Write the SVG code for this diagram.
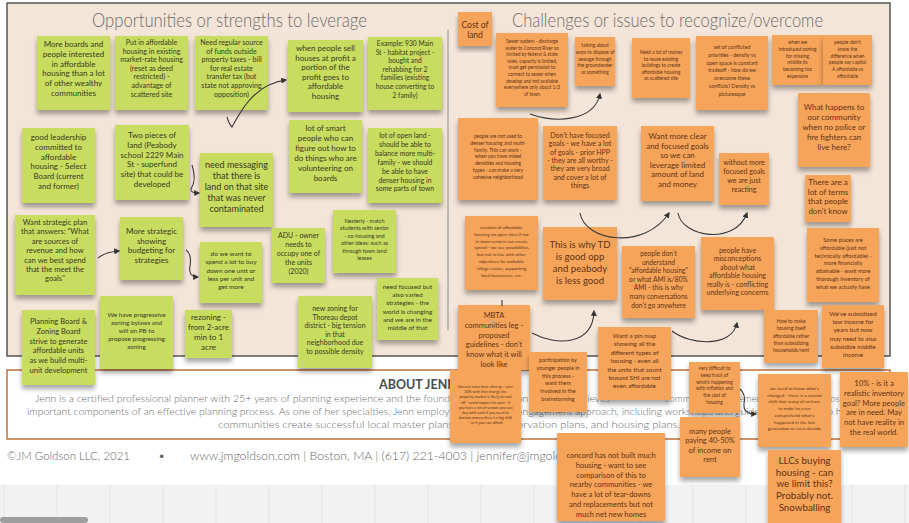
<svg xmlns="http://www.w3.org/2000/svg" width="909" height="523" viewBox="0 0 909 523">
<defs>
<filter id="sh" x="-10%" y="-10%" width="120%" height="130%">
<feDropShadow dx="0" dy="4" stdDeviation="2.5" flood-color="#000" flood-opacity="0.35"/>
</filter>
<marker id="ah" viewBox="0 0 10 10" refX="8" refY="5" markerWidth="6" markerHeight="6" markerUnits="userSpaceOnUse" orient="auto">
<path d="M0,0 L10,5 L0,10 z" fill="#333"/>
</marker>
<style>
.g{fill:#c8dc5e;filter:url(#sh)}
.o{fill:#f6a45a;filter:url(#sh)}
.tg{font-family:Lato,"Open Sans",sans-serif;fill:#3a3a24;text-anchor:middle}
.to{font-family:Lato,"Open Sans",sans-serif;fill:#5e3314;text-anchor:middle}
.title{font-family:Lato,"Open Sans",sans-serif;font-weight:300;fill:#6b6b6b;font-size:19px}
.about{font-family:Lato,"Open Sans",sans-serif;font-weight:300;fill:#6a6a6a;font-size:9.8px}
.foot{font-family:Lato,"Open Sans",sans-serif;font-weight:300;fill:#666;font-size:12.5px}
.conn{fill:none;stroke:#3a3a3a;stroke-width:1.1}
</style>
</defs>
<rect x="0" y="0" width="909" height="523" fill="#ffffff"/>
<g id="board">
<rect x="7" y="3" width="883" height="353" fill="#f3e5d8" stroke="#555" stroke-width="1.5"/>
<line x1="448" y1="30" x2="448" y2="330" stroke="#aaa" stroke-width="1.5"/>
<text class="title" x="92" y="27" textLength="275" lengthAdjust="spacingAndGlyphs">Opportunities or strengths to leverage</text>
<text class="title" x="512" y="27" textLength="311" lengthAdjust="spacingAndGlyphs">Challenges or issues to recognize/overcome</text>
</g>
<g id="about">
<rect x="7" y="370" width="883" height="69" fill="#fff" stroke="#c0703a" stroke-width="1.5"/>
<text x="379" y="389" font-family="Lato, 'Open Sans', sans-serif" font-weight="700" font-size="12.5" fill="#4a4a4a">ABOUT JENN</text>
<text class="about" x="35" y="402" textLength="575" lengthAdjust="spacingAndGlyphs">Jenn is a certified professional planner with 25+ years of planning experience and the founder of JM Goldson LLC. She believes</text>
<text class="about" x="665" y="402" textLength="178" lengthAdjust="spacingAndGlyphs">community engagement is one of the most</text>
<text class="about" x="27" y="415" textLength="828" lengthAdjust="spacingAndGlyphs">important components of an effective planning process. As one of her specialties, Jenn employs a community engagement approach, including workshops and guided discussions, to help</text>
<text class="about" x="218" y="428" textLength="462" lengthAdjust="spacingAndGlyphs">communities create successful local master plans, historic preservation plans, and housing plans.</text>
</g>
<g id="footer">
<text class="foot" x="7" y="460" textLength="123" lengthAdjust="spacingAndGlyphs">©JM Goldson LLC, 2021</text>
<text class="foot" x="158" y="460">•</text>
<text class="foot" x="190" y="460" textLength="416" lengthAdjust="spacingAndGlyphs">www.jmgoldson.com | Boston, MA | (617) 221-4003 | jennifer@jmgoldson.com</text>
</g>
<g id="canvas">
<rect x="0" y="485" width="909" height="38" fill="#f2f2f2"/>
<path d="M4,485V523M57,485V523M110,485V523M163,485V523M216,485V523M269,485V523M322,485V523M375,485V523M428,485V523M481,485V523M534,485V523M587,485V523M640,485V523M693,485V523M746,485V523M799,485V523M852,485V523M905,485V523" stroke="#e3e3e3" stroke-width="1"/>
<rect x="0" y="517" width="88" height="6" rx="3" fill="#9e9e9e"/>
</g>

<g id="g1"><rect class="g" x="37" y="36" width="73" height="74"/><text class="tg" x="73.5" y="47" font-size="8"><tspan x="73.5">More boards and</tspan><tspan x="73.5" dy="9.8">people interested</tspan><tspan x="73.5" dy="9.8">in affordable</tspan><tspan x="73.5" dy="9.8">housing than a lot</tspan><tspan x="73.5" dy="9.8">of other wealthy</tspan><tspan x="73.5" dy="9.8">communities</tspan></text></g>
<g id="g2"><rect class="g" x="115" y="36" width="73" height="74"/><text class="tg" x="151.5" y="45" font-size="7.1"><tspan x="151.5">Put in affordable</tspan><tspan x="151.5" dy="8.6">housing in existing</tspan><tspan x="151.5" dy="8.6">market-rate housing</tspan><tspan x="151.5" dy="8.6">(reset as deed</tspan><tspan x="151.5" dy="8.6">restricted) -</tspan><tspan x="151.5" dy="8.6">advantage of</tspan><tspan x="151.5" dy="8.6">scattered site</tspan></text></g>
<g id="g3"><rect class="g" x="195" y="36" width="73" height="74"/><text class="tg" x="231.5" y="45" font-size="7.1"><tspan x="231.5">Need regular source</tspan><tspan x="231.5" dy="8.6">of funds outside</tspan><tspan x="231.5" dy="8.6">property taxes - bill</tspan><tspan x="231.5" dy="8.6">for real estate</tspan><tspan x="231.5" dy="8.6">transfer tax (but</tspan><tspan x="231.5" dy="8.6">state not approving</tspan><tspan x="231.5" dy="8.6">opposition)</tspan></text></g>
<g id="g4"><rect class="g" x="288" y="40" width="75" height="72"/><text class="tg" x="325.5" y="51" font-size="8"><tspan x="325.5">when people sell</tspan><tspan x="325.5" dy="9.5">houses at profit a</tspan><tspan x="325.5" dy="9.5">portion of the</tspan><tspan x="325.5" dy="9.5">profit goes to</tspan><tspan x="325.5" dy="9.5">affordable</tspan><tspan x="325.5" dy="9.5">housing</tspan></text></g>
<g id="g5"><rect class="g" x="368" y="37" width="74" height="73"/><text class="tg" x="405" y="46" font-size="6.7"><tspan x="405">Example: 930 Main</tspan><tspan x="405" dy="8.6">St - habitat project -</tspan><tspan x="405" dy="8.6">bought and</tspan><tspan x="405" dy="8.6">rehabbing for 2</tspan><tspan x="405" dy="8.6">families (existing</tspan><tspan x="405" dy="8.6">house converting to</tspan><tspan x="405" dy="8.6">2 family)</tspan></text></g>
<g id="g6"><rect class="g" x="22" y="128" width="73" height="75"/><text class="tg" x="58.5" y="140" font-size="8"><tspan x="58.5">good leadership</tspan><tspan x="58.5" dy="9.8">committed to</tspan><tspan x="58.5" dy="9.8">affordable</tspan><tspan x="58.5" dy="9.8">housing - Select</tspan><tspan x="58.5" dy="9.8">Board (current</tspan><tspan x="58.5" dy="9.8">and former)</tspan></text></g>
<g id="g7"><rect class="g" x="115" y="125" width="74" height="75"/><text class="tg" x="152" y="138" font-size="8"><tspan x="152">Two pieces of</tspan><tspan x="152" dy="9.8">land (Peabody</tspan><tspan x="152" dy="9.8">school 2229 Main</tspan><tspan x="152" dy="9.8">St - superfund</tspan><tspan x="152" dy="9.8">site) that could be</tspan><tspan x="152" dy="9.8">developed</tspan></text></g>
<g id="g8"><rect class="g" x="200" y="153" width="73" height="74"/><text class="tg" x="236.5" y="168" font-size="9"><tspan x="236.5">need messaging</tspan><tspan x="236.5" dy="11">that there is</tspan><tspan x="236.5" dy="11">land on that site</tspan><tspan x="236.5" dy="11">that was never</tspan><tspan x="236.5" dy="11">contaminated</tspan></text></g>
<g id="g9"><rect class="g" x="289" y="120" width="73" height="73"/><text class="tg" x="325.5" y="131" font-size="8"><tspan x="325.5">lot of smart</tspan><tspan x="325.5" dy="10">people who can</tspan><tspan x="325.5" dy="10">figure out how to</tspan><tspan x="325.5" dy="10">do things who are</tspan><tspan x="325.5" dy="10">volunteering on</tspan><tspan x="325.5" dy="10">boards</tspan></text></g>
<g id="g10"><rect class="g" x="368" y="128" width="74" height="75"/><text class="tg" x="405" y="138" font-size="6.9"><tspan x="405">lot of open land -</tspan><tspan x="405" dy="8.9">should be able to</tspan><tspan x="405" dy="8.9">balance more multi-</tspan><tspan x="405" dy="8.9">family - we should</tspan><tspan x="405" dy="8.9">be able to have</tspan><tspan x="405" dy="8.9">denser housing in</tspan><tspan x="405" dy="8.9">some parts of town</tspan></text></g>
<g id="g11"><rect class="g" x="15" y="215" width="80" height="80"/><text class="tg" x="55" y="225" font-size="7.6"><tspan x="55">Want strategic plan</tspan><tspan x="55" dy="9.4">that answers: "What</tspan><tspan x="55" dy="9.4">are sources of</tspan><tspan x="55" dy="9.4">revenue and how</tspan><tspan x="55" dy="9.4">can we best spend</tspan><tspan x="55" dy="9.4">that the meet the</tspan><tspan x="55" dy="9.4">goals"</tspan></text></g>
<g id="g12"><rect class="g" x="120" y="217" width="63" height="63"/><text class="tg" x="151.5" y="234" font-size="8"><tspan x="151.5">More strategic</tspan><tspan x="151.5" dy="9.6">showing</tspan><tspan x="151.5" dy="9.6">budgeting for</tspan><tspan x="151.5" dy="9.6">strategies</tspan></text></g>
<g id="g13"><rect class="g" x="200" y="242" width="62" height="61"/><text class="tg" x="231" y="256" font-size="6.5"><tspan x="231">do we want to</tspan><tspan x="231" dy="8.3">spend a lot to buy</tspan><tspan x="231" dy="8.3">down one unit or</tspan><tspan x="231" dy="8.3">less per unit and</tspan><tspan x="231" dy="8.3">get more</tspan></text></g>
<g id="g14"><rect class="g" x="272" y="228" width="53" height="55"/><text class="tg" x="298.5" y="238" font-size="7"><tspan x="298.5">ADU - owner</tspan><tspan x="298.5" dy="8.9">needs to</tspan><tspan x="298.5" dy="8.9">occupy one of</tspan><tspan x="298.5" dy="8.9">the units</tspan><tspan x="298.5" dy="8.9">(2020)</tspan></text></g>
<g id="g15"><rect class="g" x="333" y="210" width="63" height="63"/><text class="tg" x="364.5" y="223" font-size="5.5"><tspan x="364.5">Nesterly - match</tspan><tspan x="364.5" dy="7.4">students with senior</tspan><tspan x="364.5" dy="7.4">- co-housing and</tspan><tspan x="364.5" dy="7.4">other ideas: such as</tspan><tspan x="364.5" dy="7.4">through town land</tspan><tspan x="364.5" dy="7.4">leases</tspan></text></g>
<g id="g16"><rect class="g" x="377" y="278" width="61" height="62"/><text class="tg" x="407.5" y="289" font-size="6.5"><tspan x="407.5">need focused but</tspan><tspan x="407.5" dy="8.2">also varied</tspan><tspan x="407.5" dy="8.2">strategies - the</tspan><tspan x="407.5" dy="8.2">world is changing</tspan><tspan x="407.5" dy="8.2">and we are in the</tspan><tspan x="407.5" dy="8.2">middle of that</tspan></text></g>
<g id="g17"><rect class="g" x="298" y="296" width="74" height="72"/><text class="tg" x="335" y="311" font-size="7"><tspan x="335">new zoning for</tspan><tspan x="335" dy="8.6">Thoreau depot</tspan><tspan x="335" dy="8.6">district - big tension</tspan><tspan x="335" dy="8.6">in that</tspan><tspan x="335" dy="8.6">neighborhood due</tspan><tspan x="335" dy="8.6">to possible density</tspan></text></g>
<g id="g18"><rect class="g" x="22" y="310" width="73" height="75"/><text class="tg" x="58.5" y="324" font-size="7.5"><tspan x="58.5">Planning Board &amp;</tspan><tspan x="58.5" dy="9.8">Zoning Board</tspan><tspan x="58.5" dy="9.8">strive to generate</tspan><tspan x="58.5" dy="9.8">affordable units</tspan><tspan x="58.5" dy="9.8">as we build multi-</tspan><tspan x="58.5" dy="9.8">unit development</tspan></text></g>
<g id="g19"><rect class="g" x="100" y="296" width="73" height="73"/><text class="tg" x="136.5" y="317" font-size="6.4"><tspan x="136.5">We have progressive</tspan><tspan x="136.5" dy="8.1">zoning bylaws and</tspan><tspan x="136.5" dy="8.1">will on PB to</tspan><tspan x="136.5" dy="8.1">propose progressing</tspan><tspan x="136.5" dy="8.1">zoning</tspan></text></g>
<g id="g20"><rect class="g" x="185" y="310" width="47" height="48"/><text class="tg" x="208.5" y="320" font-size="8"><tspan x="208.5">rezoning -</tspan><tspan x="208.5" dy="10">from 2-acre</tspan><tspan x="208.5" dy="10">min to 1</tspan><tspan x="208.5" dy="10">acre</tspan></text></g>

<g id="o1"><rect class="o" x="458" y="12" width="34" height="34"/><text class="to" x="475" y="28" font-size="8.5"><tspan x="475">Cost of</tspan><tspan x="475" dy="10">land</tspan></text></g>
<g id="o2"><rect class="o" x="496" y="33" width="72" height="74"/><text class="to" x="532" y="43" font-size="4.7"><tspan x="532">Sewer system - discharge</tspan><tspan x="532" dy="6.6">water to Concord River so</tspan><tspan x="532" dy="6.6">limited by federal &amp; state</tspan><tspan x="532" dy="6.6">rules, capacity is limited,</tspan><tspan x="532" dy="6.6">must get permission to</tspan><tspan x="532" dy="6.6">connect to sewer when</tspan><tspan x="532" dy="6.6">develop and not available</tspan><tspan x="532" dy="6.6">everywhere only about 1/3</tspan><tspan x="532" dy="6.6">of town</tspan></text></g>
<g id="o3"><rect class="o" x="575" y="37" width="40" height="49"/><text class="to" x="595" y="47" font-size="4.8"><tspan x="595">talking about</tspan><tspan x="595" dy="6.8">ways to dispose of</tspan><tspan x="595" dy="6.8">sewage through</tspan><tspan x="595" dy="6.8">the groundwater</tspan><tspan x="595" dy="6.8">or something</tspan></text></g>
<g id="o4"><rect class="o" x="632" y="38" width="58" height="60"/><text class="to" x="661" y="54" font-size="4.8"><tspan x="661">Need a lot of money</tspan><tspan x="661" dy="6.6">to reuse existing</tspan><tspan x="661" dy="6.6">buildings to create</tspan><tspan x="661" dy="6.6">affordable housing</tspan><tspan x="661" dy="6.6">as scattered site</tspan></text></g>
<g id="o5"><rect class="o" x="696" y="36" width="72" height="74"/><text class="to" x="732" y="49" font-size="5.2"><tspan x="732">set of conflicted</tspan><tspan x="732" dy="7.8">priorities - density vs</tspan><tspan x="732" dy="7.8">open space is constant</tspan><tspan x="732" dy="7.8">tradeoff - how do we</tspan><tspan x="732" dy="7.8">overcome these</tspan><tspan x="732" dy="7.8">conflicts? Density vs</tspan><tspan x="732" dy="7.8">picturesque</tspan></text></g>
<g id="o6"><rect class="o" x="772" y="35" width="51" height="50"/><text class="to" x="797.5" y="44" font-size="4.8"><tspan x="797.5">when we</tspan><tspan x="797.5" dy="6.8">introduced zoning</tspan><tspan x="797.5" dy="6.8">for missing</tspan><tspan x="797.5" dy="6.8">middle its</tspan><tspan x="797.5" dy="6.8">becoming too</tspan><tspan x="797.5" dy="6.8">expensive</tspan></text></g>
<g id="o7"><rect class="o" x="823" y="35" width="49" height="50"/><text class="to" x="847.5" y="44" font-size="4.8"><tspan x="847.5">people don't</tspan><tspan x="847.5" dy="6.8">know the</tspan><tspan x="847.5" dy="6.8">difference when</tspan><tspan x="847.5" dy="6.8">people say capital</tspan><tspan x="847.5" dy="6.8">A affordable vs</tspan><tspan x="847.5" dy="6.8">affordable</tspan></text></g>
<g id="o8"><rect class="o" x="798" y="93" width="72" height="74"/><text class="to" x="834" y="110" font-size="8"><tspan x="834">What happens to</tspan><tspan x="834" dy="10">our community</tspan><tspan x="834" dy="10">when no police or</tspan><tspan x="834" dy="10">fire fighters can</tspan><tspan x="834" dy="10">live here?</tspan></text></g>
<g id="o9"><rect class="o" x="458" y="118" width="80" height="82"/><text class="to" x="498" y="138" font-size="4.9"><tspan x="498">people are not used to</tspan><tspan x="498" dy="6.8">denser housing and multi-</tspan><tspan x="498" dy="6.8">family. This can work -</tspan><tspan x="498" dy="6.8">when you have mixed</tspan><tspan x="498" dy="6.8">densities and housing</tspan><tspan x="498" dy="6.8">types - can make a very</tspan><tspan x="498" dy="6.8">cohesive neighborhood</tspan></text></g>
<g id="o10"><rect class="o" x="543" y="126" width="74" height="74"/><text class="to" x="580" y="138" font-size="7"><tspan x="580">Don't have focused</tspan><tspan x="580" dy="8.3">goals - we have a lot</tspan><tspan x="580" dy="8.3">of goals - prior HPP</tspan><tspan x="580" dy="8.3">- they are all worthy -</tspan><tspan x="580" dy="8.3">they are very broad</tspan><tspan x="580" dy="8.3">and cover a lot of</tspan><tspan x="580" dy="8.3">things</tspan></text></g>
<g id="o11"><rect class="o" x="641" y="126" width="73" height="75"/><text class="to" x="677.5" y="139" font-size="8"><tspan x="677.5">Want more clear</tspan><tspan x="677.5" dy="9.6">and focused goals</tspan><tspan x="677.5" dy="9.6">so we can</tspan><tspan x="677.5" dy="9.6">leverage limited</tspan><tspan x="677.5" dy="9.6">amount of land</tspan><tspan x="677.5" dy="9.6">and money</tspan></text></g>
<g id="o12"><rect class="o" x="719" y="153" width="50" height="52"/><text class="to" x="744" y="165" font-size="7"><tspan x="744">without more</tspan><tspan x="744" dy="9">focused goals</tspan><tspan x="744" dy="9">we are just</tspan><tspan x="744" dy="9">reacting</tspan></text></g>
<g id="o13"><rect class="o" x="805" y="175" width="46" height="47"/><text class="to" x="828" y="185" font-size="8"><tspan x="828">There are a</tspan><tspan x="828" dy="9.6">lot of terms</tspan><tspan x="828" dy="9.6">that people</tspan><tspan x="828" dy="9.6">don't know</tspan></text></g>
<g id="o14"><rect class="o" x="465" y="216" width="73" height="74"/><text class="to" x="501.5" y="229" font-size="4.5"><tspan x="501.5">creation of affordable</tspan><tspan x="501.5" dy="6.8">housing on open sites if not</tspan><tspan x="501.5" dy="6.8">in town centers can create</tspan><tspan x="501.5" dy="6.8">sprawl - we see possibilities</tspan><tspan x="501.5" dy="6.8">but not in line with other</tspan><tspan x="501.5" dy="6.8">objectives for walkable</tspan><tspan x="501.5" dy="6.8">village center, supporting</tspan><tspan x="501.5" dy="6.8">local businesses, etc.</tspan></text></g>
<g id="o15"><rect class="o" x="543" y="227" width="74" height="73"/><text class="to" x="580" y="248" font-size="9.6"><tspan x="580">This is why TD</tspan><tspan x="580" dy="12">is good opp</tspan><tspan x="580" dy="12">and peabody</tspan><tspan x="580" dy="12">is less good</tspan></text></g>
<g id="o16"><rect class="o" x="622" y="246" width="73" height="72"/><text class="to" x="658.5" y="256" font-size="6.7"><tspan x="658.5">people don't</tspan><tspan x="658.5" dy="8.6">understand</tspan><tspan x="658.5" dy="8.6">"affordable housing"</tspan><tspan x="658.5" dy="8.6">or what AMI is/80%</tspan><tspan x="658.5" dy="8.6">AMI - this is why</tspan><tspan x="658.5" dy="8.6">many conversations</tspan><tspan x="658.5" dy="8.6">don't go anywhere</tspan></text></g>
<g id="o17"><rect class="o" x="701" y="237" width="73" height="73"/><text class="to" x="737.5" y="253" font-size="7"><tspan x="737.5">people have</tspan><tspan x="737.5" dy="8.4">misconceptions</tspan><tspan x="737.5" dy="8.4">about what</tspan><tspan x="737.5" dy="8.4">affordable housing</tspan><tspan x="737.5" dy="8.4">really is - conflicting</tspan><tspan x="737.5" dy="8.4">underlying concerns</tspan></text></g>
<g id="o18"><rect class="o" x="807" y="228" width="72" height="74"/><text class="to" x="843" y="242" font-size="5.6"><tspan x="843">Some places are</tspan><tspan x="843" dy="7.8">affordable (just not</tspan><tspan x="843" dy="7.8">technically affordable) -</tspan><tspan x="843" dy="7.8">more financially</tspan><tspan x="843" dy="7.8">attainable - want more</tspan><tspan x="843" dy="7.8">thorough inventory of</tspan><tspan x="843" dy="7.8">what we actually have</tspan></text></g>
<g id="o19"><rect class="o" x="764" y="310" width="54" height="53"/><text class="to" x="791" y="323" font-size="5"><tspan x="791">How to make</tspan><tspan x="791" dy="7.3">housing itself</tspan><tspan x="791" dy="7.3">affordable rather</tspan><tspan x="791" dy="7.3">than subsidizing</tspan><tspan x="791" dy="7.3">households/rent</tspan></text></g>
<g id="o20"><rect class="o" x="822" y="305" width="62" height="63"/><text class="to" x="853" y="316" font-size="6.3"><tspan x="853">We've subsidized</tspan><tspan x="853" dy="8.2">low income for</tspan><tspan x="853" dy="8.2">years but now</tspan><tspan x="853" dy="8.2">may need to also</tspan><tspan x="853" dy="8.2">subsidize middle</tspan><tspan x="853" dy="8.2">income</tspan></text></g>
<g id="o21"><rect class="o" x="458" y="305" width="72" height="65"/><text class="to" x="494" y="318" font-size="7.5"><tspan x="494">MBTA</tspan><tspan x="494" dy="9.8">communities leg -</tspan><tspan x="494" dy="9.8">proposed</tspan><tspan x="494" dy="9.8">guidelines - don't</tspan><tspan x="494" dy="9.8">know what it will</tspan><tspan x="494" dy="9.8">look like</tspan></text></g>
<g id="o22"><rect class="o" x="529" y="352" width="58" height="60"/><text class="to" x="558" y="362" font-size="5.5"><tspan x="558">participation by</tspan><tspan x="558" dy="7.8">younger people in</tspan><tspan x="558" dy="7.8">this process -</tspan><tspan x="558" dy="7.8">want them</tspan><tspan x="558" dy="7.8">involved in the</tspan><tspan x="558" dy="7.8">brainstorming</tspan></text></g>
<g id="o23"><rect class="o" x="598" y="327" width="73" height="73"/><text class="to" x="634.5" y="338" font-size="6.3"><tspan x="634.5">Want a pin map</tspan><tspan x="634.5" dy="8.4">showing all the</tspan><tspan x="634.5" dy="8.4">different types of</tspan><tspan x="634.5" dy="8.4">housing - even all</tspan><tspan x="634.5" dy="8.4">the units that count</tspan><tspan x="634.5" dy="8.4">toward SHI are not</tspan><tspan x="634.5" dy="8.4">even affordable</tspan></text></g>
<g id="o24"><rect class="o" x="450" y="370" width="71" height="73"/><text class="to" x="485.5" y="388" font-size="3.8"><tspan x="485.5">Interest rates have shot up - over</tspan><tspan x="485.5" dy="5.2">10% with that change the</tspan><tspan x="485.5" dy="5.2">property market is likely to cool</tspan><tspan x="485.5" dy="5.2">off - could impact the plan - if</tspan><tspan x="485.5" dy="5.2">you have a lot of seniors you can</tspan><tspan x="485.5" dy="5.2">buy with cash if you need to</tspan><tspan x="485.5" dy="5.2">borrow money there's a big shift</tspan><tspan x="485.5" dy="5.2">- or if you can afford</tspan></text></g>
<g id="o25"><rect class="o" x="557" y="433" width="108" height="88"/><text class="to" x="611" y="458" font-size="7.5"><tspan x="611">concord has not built much</tspan><tspan x="611" dy="9.8">housing - want to see</tspan><tspan x="611" dy="9.8">comparison of this to</tspan><tspan x="611" dy="9.8">nearby communities - we</tspan><tspan x="611" dy="9.8">have a lot of tear-downs</tspan><tspan x="611" dy="9.8">and replacements but not</tspan><tspan x="611" dy="9.8">much net new homes</tspan></text></g>
<g id="o26"><rect class="o" x="689" y="362" width="51" height="51"/><text class="to" x="714.5" y="370" font-size="4.8"><tspan x="714.5">very difficult to</tspan><tspan x="714.5" dy="6.8">keep track of</tspan><tspan x="714.5" dy="6.8">what's happening</tspan><tspan x="714.5" dy="6.8">with inflation and</tspan><tspan x="714.5" dy="6.8">the cost of</tspan><tspan x="714.5" dy="6.8">housing</tspan></text></g>
<g id="o27"><rect class="o" x="680" y="417" width="60" height="60"/><text class="to" x="710" y="434" font-size="7.5"><tspan x="710">many people</tspan><tspan x="710" dy="9.4">paying 40-50%</tspan><tspan x="710" dy="9.4">of income on</tspan><tspan x="710" dy="9.4">rent</tspan></text></g>
<g id="o28"><rect class="o" x="758" y="374" width="73" height="73"/><text class="to" x="794.5" y="390" font-size="4.6"><tspan x="794.5">we need to know what's</tspan><tspan x="794.5" dy="6.7">changed - there is a mental</tspan><tspan x="794.5" dy="6.7">shift that many of us have</tspan><tspan x="794.5" dy="6.7">to make to even</tspan><tspan x="794.5" dy="6.7">comprehend what's</tspan><tspan x="794.5" dy="6.7">happened in the last</tspan><tspan x="794.5" dy="6.7">generation or even decade</tspan></text></g>
<g id="o29"><rect class="o" x="840" y="372" width="68" height="75"/><text class="to" x="874" y="386" font-size="7.7"><tspan x="874">10% - is it a</tspan><tspan x="874" dy="9.8">realistic inventory</tspan><tspan x="874" dy="9.8">goal? More people</tspan><tspan x="874" dy="9.8">are in need. May</tspan><tspan x="874" dy="9.8">not have reality in</tspan><tspan x="874" dy="9.8">the real world.</tspan></text></g>
<g id="o30"><rect class="o" x="768" y="450" width="73" height="73"/><text class="to" x="804.5" y="464" font-size="9.8"><tspan x="804.5">LLCs buying</tspan><tspan x="804.5" dy="11.7">housing - can</tspan><tspan x="804.5" dy="11.7">we limit this?</tspan><tspan x="804.5" dy="11.7">Probably not.</tspan><tspan x="804.5" dy="11.7">Snowballing</tspan></text></g>

<g id="connectors">
<path class="conn" d="M227,117 Q229,124 232,127 C242,108 256,84 286,80" marker-end="url(#ah)"/>
<path class="conn" d="M192,165 Q197,180 191,189 Q190,193 199,193" marker-end="url(#ah)"/>
<path class="conn" d="M98,258 Q105,252 119,251" marker-end="url(#ah)"/>
<path class="conn" d="M186,250 Q192,254 190,266 Q188,277 198,277" marker-end="url(#ah)"/>
<path class="conn" d="M530,114 C555,123 594,122 600,94" marker-end="url(#ah)"/>
<path class="conn" d="M580,213 C585,242 645,250 669,213" marker-end="url(#ah)"/>
<path class="conn" d="M678,213 C682,237 735,246 747,213" marker-end="url(#ah)"/>
<path class="conn" d="M672,331 C690,345 732,348 737,323" marker-end="url(#ah)"/>
<path class="conn" d="M532,333 C556,346 593,346 594,311" marker-end="url(#ah)"/>
<path class="conn" d="M502,300 L502,306"/>
<path class="conn" d="M740,389 Q746,394 744,404 Q743,414 756,414" marker-end="url(#ah)"/>
</g>
</svg>
